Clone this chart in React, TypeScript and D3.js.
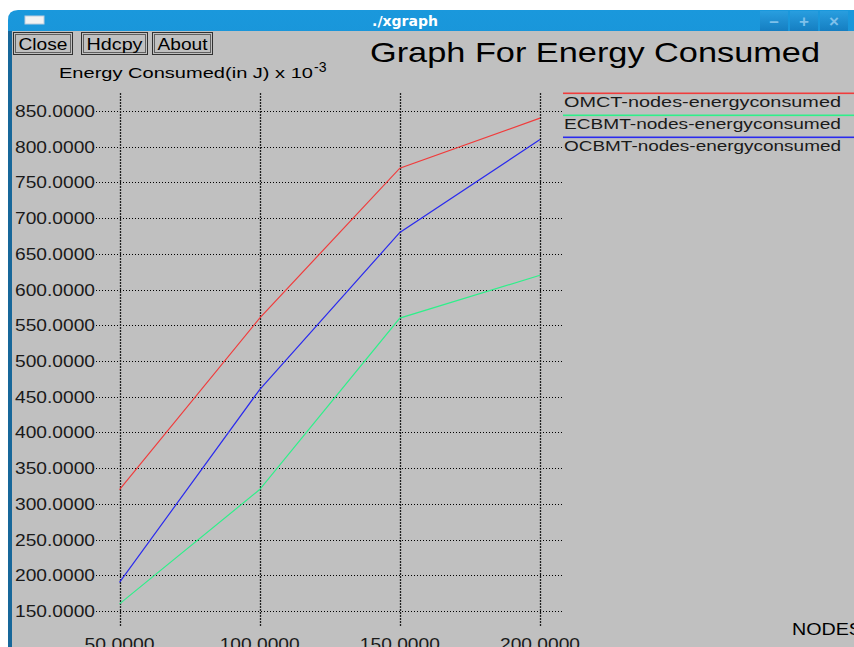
import React from "react";
import * as d3 from "d3";

const xTicks = [50, 100, 150, 200];
const yTicks = [150, 200, 250, 300, 350, 400, 450, 500, 550, 600, 650, 700, 750, 800, 850];
const nodes = [50, 100, 150, 200];
const omct = [320, 560, 770, 840];
const ecbmt = [160, 320, 560, 620];
const ocbmt = [190, 460, 680, 810];
const seriesNames = ["OMCT-nodes-energyconsumed", "ECBMT-nodes-energyconsumed", "OCBMT-nodes-energyconsumed"];
const seriesColors = ["#f03c3c", "#2ef08a", "#2a2aee"];
const seriesValues = [omct, ecbmt, ocbmt];
const buttons = ["Close", "Hdcpy", "About"];

export default function App() {
  const x = d3.scaleLinear().domain([50, 200]).range([119.5, 540]);
  const y = d3.scaleLinear().domain([150, 850]).range([611, 111]);
  const line = d3
    .line<[number, number]>()
    .x((d) => x(d[0]))
    .y((d) => y(d[1]));
  const font = "'Liberation Sans', Arial, Helvetica, sans-serif";
  const btnX = [13, 81, 152];
  const btnW = [59, 66, 60];
  return (
    <svg
      width={854}
      height={647}
      style={{ position: "absolute", left: 0, top: 0, display: "block" }}
      fontFamily={font}
    >
      <defs>
        <linearGradient id="tb" x1="0" y1="0" x2="0" y2="1">
          <stop offset="0" stopColor="#1a98dc" />
          <stop offset="1" stopColor="#0964a8" />
        </linearGradient>
        <linearGradient id="tbb" x1="0" y1="0" x2="0" y2="1">
          <stop offset="0" stopColor="#2c9fe0" />
          <stop offset="1" stopColor="#1478bb" />
        </linearGradient>
      </defs>
      <rect x={0} y={0} width={854} height={647} fill="#ffffff" />
      {/* window frame */}
      <path d="M8,647 L8,20 Q8,10 18,10 L854,10 L854,647 Z" fill="url(#tb)" />
      <rect x={12} y={31} width={842} height={616} fill="#c0c0c0" />
      <rect x={8} y={31} width={4} height={616} fill="#17679a" />
      {/* icon */}
      <rect x={25} y={16} width={19} height={8} fill="#f2f2f2" stroke="#bcd" strokeWidth={1} />
      <text x={405} y={26} fill="#ffffff" fontSize={14} fontWeight="bold" textAnchor="middle" fontFamily="'DejaVu Sans', sans-serif">
        ./xgraph
      </text>
      {[760, 790, 820].map((bx, i) => (
        <g key={i}>
          <rect x={bx} y={11} width={28} height={20} fill="url(#tbb)" opacity={0.8} />
          <text x={bx + 14} y={27} fill="#7fc0ea" fontSize={17} fontWeight="bold" textAnchor="middle">
            {["\u2013", "+", "\u00d7"][i]}
          </text>
        </g>
      ))}
      {/* buttons */}
      {buttons.map((b, i) => (
        <g key={b}>
          <rect x={btnX[i] + 0.5} y={32.5} width={btnW[i]} height={22} fill="#c0c0c0" stroke="#303030" strokeWidth={1} />
          <rect x={btnX[i] + 2.5} y={34.5} width={btnW[i] - 4} height={18} fill="none" stroke="#606060" strokeWidth={1} />
          <text
            x={btnX[i] + btnW[i] / 2 + 0.5}
            y={49.5}
            fontSize={16}
            textAnchor="middle"
            fill="#000"
            textLength={btnW[i] - 10}
            lengthAdjust="spacingAndGlyphs"
          >
            {b}
          </text>
        </g>
      ))}
      {/* title */}
      <text x={370} y={62} fontSize={28} fill="#000" textLength={450} lengthAdjust="spacingAndGlyphs">
        Graph For Energy Consumed
      </text>
      {/* y axis label */}
      <text x={59} y={78} fontSize={15} fill="#000" textLength={254} lengthAdjust="spacingAndGlyphs">
        Energy Consumed(in J) x 10
      </text>
      <text x={314} y={72} fontSize={14} fill="#000">-3</text>
      {/* grid */}
      {yTicks.map((t) => (
        <g key={"y" + t}>
          <line x1={96} x2={562} y1={Math.round(y(t)) + 0.5} y2={Math.round(y(t)) + 0.5} stroke="#000" strokeWidth={1} strokeDasharray="1,2" />
          <text x={15} y={y(t) + 6} fontSize={17} fill="#1a1a1a" textLength={80} lengthAdjust="spacingAndGlyphs">
            {t.toFixed(4)}
          </text>
        </g>
      ))}
      {xTicks.map((t) => (
        <g key={"x" + t}>
          <line x1={Math.round(x(t)) + 0.5} x2={Math.round(x(t)) + 0.5} y1={93} y2={627} stroke="#202020" strokeWidth={1.3} strokeDasharray="2,1" />
          <text
            x={x(t)}
            y={650}
            fontSize={17}
            fill="#1a1a1a"
            textAnchor="middle"
            textLength={t.toFixed(4).length * 10}
            lengthAdjust="spacingAndGlyphs"
          >
            {t.toFixed(4)}
          </text>
        </g>
      ))}
      <text x={792} y={635} fontSize={16} fill="#000" textLength={70} lengthAdjust="spacingAndGlyphs">
        NODES
      </text>
      {/* series */}
      {seriesValues.map((vals, i) => (
        <path
          key={seriesNames[i]}
          d={line(nodes.map((n, j) => [n, vals[j]] as [number, number])) || ""}
          fill="none"
          stroke={seriesColors[i]}
          strokeWidth={1.2}
        />
      ))}
      {/* legend */}
      {seriesNames.map((n, i) => (
        <g key={n}>
          <rect x={563} width={291} y={92.5 + i * 22} height={1.6} fill={seriesColors[i]} />
          <text x={564} y={107 + i * 22} fontSize={15} fill="#1a1a1a" textLength={277} lengthAdjust="spacingAndGlyphs">
            {n}
          </text>
        </g>
      ))}
    </svg>
  );
}
